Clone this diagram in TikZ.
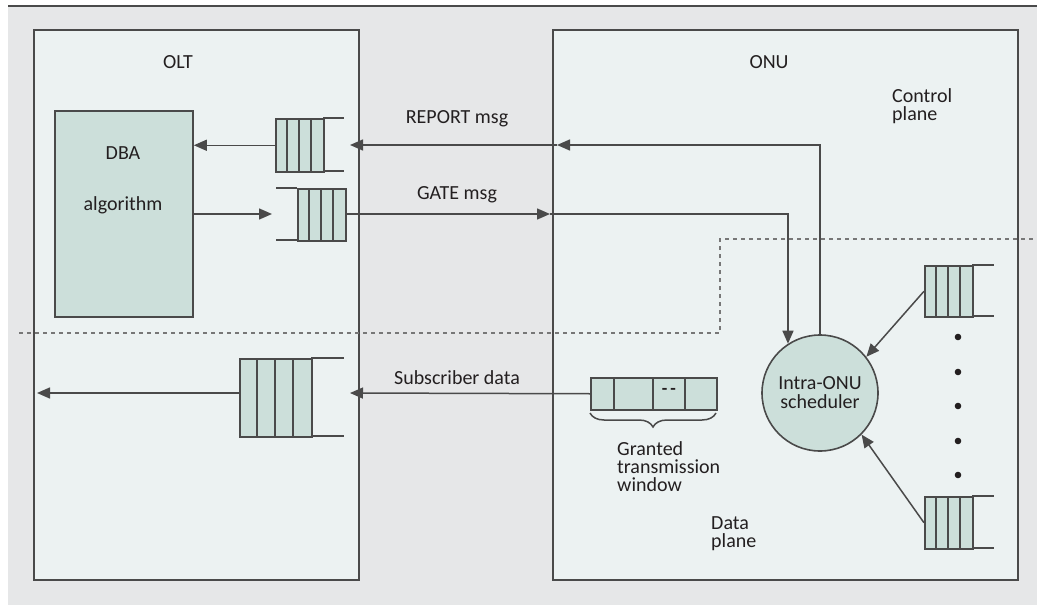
\documentclass[tikz,border=0pt]{standalone}
\usepackage{fontspec}
\setmainfont{Carlito}
\usetikzlibrary{arrows.meta,calc,decorations.pathreplacing}
\definecolor{bg}{HTML}{E6E7E8}
\definecolor{boxfill}{HTML}{ECF2F2}
\definecolor{cellfill}{HTML}{CCDFDA}
\definecolor{ln}{HTML}{4A4A4A}
\definecolor{txt}{HTML}{231F20}
\begin{document}
\begin{tikzpicture}[x=1pt,y=-1pt,
  lbl/.style={text=txt, font=\fontsize{20}{18}\selectfont, inner sep=0pt},
  panel/.style={draw=ln, line width=1.8pt, fill=boxfill, inner sep=0pt},
  cell/.style={draw=ln, line width=1.5pt, fill=cellfill, inner sep=0pt},
  conn/.style={draw=ln, line width=1.5pt},
  arr/.style={conn, -{Triangle[length=13pt,width=11pt]}},
  plane/.style={draw=ln!75, line width=1.4pt, dash pattern=on 4pt off 4pt}]

\useasboundingbox (0,0) rectangle (1037,605);
\fill[bg] (8,7) rectangle (1037,605);
\draw[ln, line width=2pt] (8,6) -- (1037,6);

% panels
\node[panel, minimum width=325pt, minimum height=550pt, anchor=north west] (olt) at (33,29) {};
\node[panel, minimum width=465pt, minimum height=550pt, anchor=north west] (onu) at (552,29) {};
\node[lbl] (oltlbl) at (178,62) {OLT};
\node[lbl] (onulbl) at (769,62) {ONU};
\node[lbl, align=left, anchor=north west] (ctrl) at (892,88) {Control\\plane};

% DBA
\node[cell, line width=1.8pt, minimum width=138pt, minimum height=206pt, anchor=north west] (dba) at (54,110) {};
\node[lbl] (dbat) at (123,153) {DBA};
\node[lbl] (algt) at (123,205) {algorithm};

% plane separator
\draw[plane] (19,333) -- (720,333) -- (720,239) -- (1037,239);

% REPORT queue (cells left, open right)
\node[cell, minimum width=48pt, minimum height=53pt, anchor=north west] (rq) at (275,118) {};
\foreach \x in {287,299,311} \draw[conn] (\x,118) -- (\x,171);
\draw[conn] (323,118) -- (344,118) (323,171) -- (344,171);

% GATE queue (open left, cells right)
\node[cell, minimum width=48pt, minimum height=52pt, anchor=north west] (gq) at (297,188) {};
\foreach \x in {309,321,333} \draw[conn] (\x,188) -- (\x,240);
\draw[conn] (276,188) -- (297,188) (276,240) -- (297,240);

% Subscriber queue in OLT
\node[cell, minimum width=72pt, minimum height=78pt, anchor=north west] (sq) at (239,358) {};
\foreach \x in {257,275,293} \draw[conn] (\x,358) -- (\x,436);
\draw[conn] (311,358) -- (344,358) (311,436) -- (344,436);

% right queues in ONU
\node[cell, minimum width=48pt, minimum height=51pt, anchor=north west] (q1) at (924,265) {};
\foreach \x in {936,948,960} \draw[conn] (\x,265) -- (\x,316);
\draw[conn] (972,265) -- (994,265) (972,316) -- (994,316);
\node[cell, minimum width=48pt, minimum height=52pt, anchor=north west] (q2) at (924,496) {};
\foreach \x in {936,948,960} \draw[conn] (\x,496) -- (\x,548);
\draw[conn] (972,496) -- (994,496) (972,548) -- (994,548);
\foreach \y in {337,372,406,441,475} \fill[txt] (958,\y) circle (3.3pt);

% granted window
\node[cell, minimum width=126pt, minimum height=32pt, anchor=north west] (win) at (590,377) {};
\foreach \x in {614,653,685} \draw[conn] (\x,377) -- (\x,409);
\node[lbl, font=\bfseries\fontsize{18}{18}\selectfont] (dd) at (669,391) {{-}\,{-}};
\draw[conn, decorate, decoration={brace, mirror, amplitude=14pt}] (590,413) -- (716,413);
\node[lbl, align=left, anchor=north west] (gtw) at (617,441) {Granted\\transmission\\window};
\node[lbl, align=left, anchor=north west] (dpl) at (711,516) {Data\\plane};

% scheduler
\node[circle, draw=ln, line width=1.6pt, fill=cellfill, minimum size=116pt, inner sep=0pt,
      align=center, text=txt, font=\fontsize{20}{19}\selectfont] (sch) at (820,393) {Intra-ONU\\scheduler};

% coordinates for free ends
\coordinate (ronu) at (557,145);
\coordinate (rolt) at (350,145);
\coordinate (gin) at (272,214);
\coordinate (gonu) at (550,214);
\coordinate (solt) at (350,393);
\coordinate (sout) at (37,393);

% connectors
\draw[arr] (rq.west) -- (dba.east |- rq.west);
\draw[arr] (dba.east |- gin) -- (gin);
\draw[arr] (gq.east |- gin) -- (gonu);
\draw[arr] (gonu) -| (sch.123.5);
\draw[arr] (sch.north) |- (ronu);
\draw[arr] (ronu) -- (rolt);
\draw[arr] (win.west) -- (solt);
\draw[arr] (sq.west |- sout) -- (sout);
\draw[arr] (q1.west) -- (sch.38);
\draw[arr] (q2.west) -- (sch.-45);

% message labels
\node[lbl] (rmsg) at (457,119) {REPORT msg};
\node[lbl] (gmsg) at (457,195) {GATE msg};
\node[lbl] (smsg) at (457,378) {Subscriber data};
\end{tikzpicture}
\end{document}
